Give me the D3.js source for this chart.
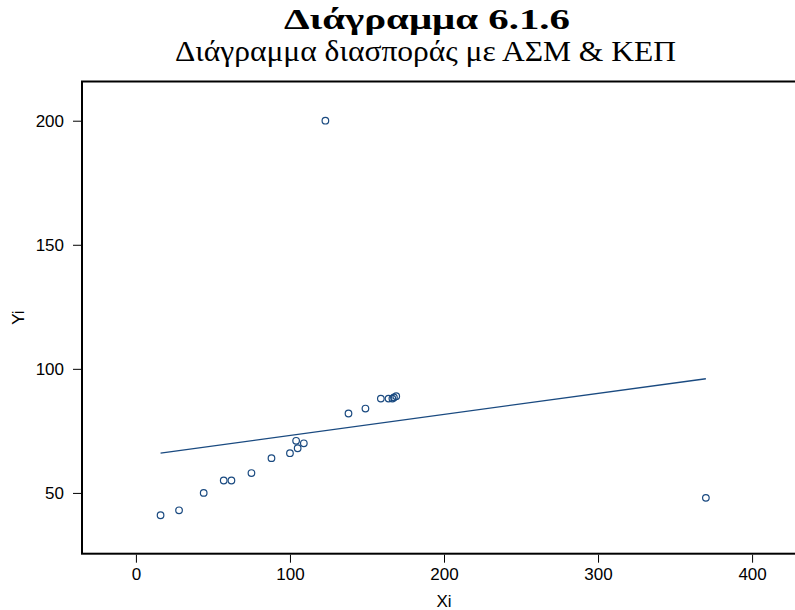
<!DOCTYPE html>
<html>
<head>
<meta charset="utf-8">
<script src="https://cdn.jsdelivr.net/npm/d3@7"></script>
<style>
  html, body { margin: 0; padding: 0; background: #fff; }
  svg { display: block; }
</style>
</head>
<body>
<svg id="chart" width="795" height="610"></svg>
<script>
// Observations (Xi, Yi)
const xValues = [16, 28, 44, 57, 62, 75, 88, 100, 105, 104, 109, 138, 149, 159, 164, 166.5, 167.5, 169, 123, 370];
const yValues = [41, 43, 50, 55, 55, 58, 64, 66, 68, 71, 70, 82, 84, 88, 88, 88, 88.5, 89, 200, 48];

const xTicks = [0, 100, 200, 300, 400];
const yTicks = [50, 100, 150, 200];

const titleText = "Διάγραμμα 6.1.6";
const subtitleText = "Διάγραμμα διασποράς με ΑΣΜ & ΚΕΠ";
const xLabel = "Xi";
const yLabel = "Yi";

const navy = "#1a4a80";

const svg = d3.select("#chart");
const plot = { left: 82, right: 806, top: 81.5, bottom: 553.7 };

const x = d3.scaleLinear().domain([-35, 435]).range([plot.left, plot.right]);
const y = d3.scaleLinear().domain([25.5, 215.8]).range([plot.bottom, plot.top]);

// Titles
const serif = "'Liberation Serif', 'Times New Roman', serif";
svg.append("text")
  .attr("x", 427).attr("y", 29)
  .attr("text-anchor", "middle")
  .attr("font-family", serif)
  .attr("font-weight", "bold")
  .attr("font-size", 29)
  .attr("textLength", 286)
  .attr("lengthAdjust", "spacingAndGlyphs")
  .text(titleText);
svg.append("text")
  .attr("x", 425.5).attr("y", 61)
  .attr("text-anchor", "middle")
  .attr("font-family", serif)
  .attr("font-size", 29)
  .attr("textLength", 501)
  .attr("lengthAdjust", "spacingAndGlyphs")
  .text(subtitleText);

// Plot frame
svg.append("rect")
  .attr("x", plot.left).attr("y", plot.top)
  .attr("width", plot.right - plot.left).attr("height", plot.bottom - plot.top)
  .attr("fill", "none").attr("stroke", "#000").attr("stroke-width", 2);

// Axes
const font = "'Liberation Sans', Arial, sans-serif";
const xAxis = svg.append("g")
  .attr("transform", `translate(0,${plot.bottom + 1})`)
  .call(d3.axisBottom(x).tickValues(xTicks).tickSize(8).tickPadding(5).tickFormat(d3.format("d")));
const yAxis = svg.append("g")
  .attr("transform", `translate(${plot.left - 1},0)`)
  .call(d3.axisLeft(y).tickValues(yTicks).tickSize(8).tickPadding(9).tickFormat(d3.format("d")));
[xAxis, yAxis].forEach(g => {
  g.select(".domain").remove();
  g.selectAll(".tick line").attr("stroke", "#000").attr("stroke-width", 1);
  g.selectAll(".tick text").attr("font-family", font).attr("font-size", 17).attr("fill", "#000");
});

// Axis titles
svg.append("text")
  .attr("x", x(200)).attr("y", 607)
  .attr("text-anchor", "middle")
  .attr("font-family", font).attr("font-size", 17)
  .text(xLabel);
svg.append("text")
  .attr("transform", `translate(24,${(plot.top + plot.bottom) / 2}) rotate(-90)`)
  .attr("text-anchor", "middle")
  .attr("font-family", font).attr("font-size", 17)
  .text(yLabel);

// Least-squares line over the range of Xi
const mx = d3.mean(xValues), my = d3.mean(yValues);
const sxy = d3.sum(xValues, (v, i) => (v - mx) * (yValues[i] - my));
const sxx = d3.sum(xValues, v => (v - mx) ** 2);
const slope = sxy / sxx;
const intercept = my - slope * mx;
const [xMin, xMax] = d3.extent(xValues);
const fitLine = d3.line().x(d => x(d)).y(d => y(intercept + slope * d));

svg.append("path")
  .datum([xMin, xMax])
  .attr("d", fitLine)
  .attr("fill", "none")
  .attr("stroke", navy)
  .attr("stroke-width", 1.3);

// Scatter markers
svg.append("g").selectAll("circle")
  .data(xValues.map((v, i) => [v, yValues[i]]))
  .join("circle")
  .attr("cx", d => x(d[0]))
  .attr("cy", d => y(d[1]))
  .attr("r", 3.3)
  .attr("fill", "none")
  .attr("stroke", navy)
  .attr("stroke-width", 1.2);
</script>
</body>
</html>
